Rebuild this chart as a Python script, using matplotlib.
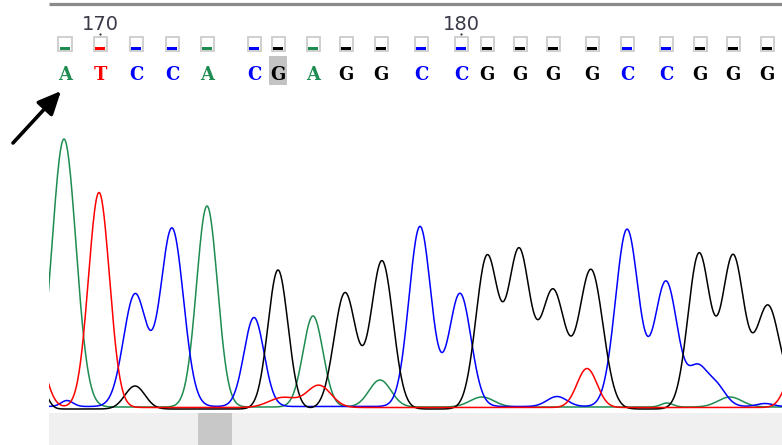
import matplotlib
matplotlib.use("Agg")
import matplotlib.pyplot as plt
import numpy as np
from matplotlib.patches import Rectangle

W, H = 782, 445

# base calls shown above the trace
bases = list("ATCCACGAGGCCGGGGCCGGG")
base_pos = [65, 100, 136, 172, 207, 254, 278, 313, 346, 381, 421,
            461, 487, 520, 553, 592, 627, 666, 700, 733, 767]
first_base = 169
selected = 6          # highlighted base (G, #175)

# trace peaks per channel: (scan position, height, width)
peaks_A = [(64, 268, 12), (207, 201, 10.5), (313, 91, 10), (380, 27, 11),
           (482, 10, 12), (667, 4, 6), (730, 10, 12)]
peaks_T = [(35, 60, 10), (99, 215, 10.5), (283, 10, 14), (319, 22, 12),
           (587, 39, 10), (797, 45, 10)]
peaks_C = [(67, 6, 6), (135, 112, 11.5), (172, 178, 11.5), (254, 89, 10),
           (420, 180, 11), (460, 113, 11), (557, 10, 10), (627, 177, 11.5),
           (666, 125, 11.5), (697, 35, 9), (715, 22, 10), (765, 3, 8)]
peaks_G = [(42, 18, 6), (135, 23, 10), (278, 139, 10), (345, 116, 11),
           (382, 148, 11), (487, 152, 11), (519, 157, 11), (553, 118, 12),
           (591, 139, 12), (699, 155, 11), (733, 152, 11), (768, 103, 12),
           (805, 40, 11)]
baseline = {'A': 1, 'T': 0.5, 'C': 1.5, 'G': -1}

colors = {'A': '#1e8c50', 'T': '#ff0000', 'C': '#0000ff', 'G': '#000000'}

fig = plt.figure(figsize=(W / 100, H / 100), dpi=100)


def px_axes(x0, y0, x1, y1):
    return fig.add_axes([x0 / W, 1 - y1 / H, (x1 - x0) / W, (y1 - y0) / H])


# trace panel
ax = px_axes(49, 90, 782, 413)
scan = np.arange(20, 810, 0.5)
for ch, pk in [('A', peaks_A), ('C', peaks_C), ('G', peaks_G), ('T', peaks_T)]:
    sig = np.full_like(scan, baseline[ch], dtype=float)
    for p, h, s in pk:
        sig += h * np.exp(-(scan - p) ** 2 / (2 * s ** 2))
    ax.plot(scan, sig, color=colors[ch], lw=1.1)
ax.set_xlim(49, 782)
ax.set_ylim(-5, 318)
ax.axis('off')

# scroll bar under the trace
sb = px_axes(49, 413, 782, 445)
sb.set_facecolor('#f0f0f0')
sb.set_xlim(49, 782)
sb.set_ylim(0, 1)
sb.axvspan(198, 232, color='#c8c8c8', lw=0)
for s in sb.spines.values():
    s.set_visible(False)
sb.set_xticks([])
sb.set_yticks([])

# base call strip
top = px_axes(49, 0, 782, 100)
top.set_xlim(49, 782)
top.set_ylim(100, 0)
top.axis('off')
for i, (b, x) in enumerate(zip(bases, base_pos)):
    if i == selected:
        top.add_patch(Rectangle((x - 9, 56), 18, 29, color='#c3c3c3', lw=0))
    top.add_patch(Rectangle((x - 6.5, 36.5), 13, 14, fill=False,
                            ec='#cccccc', lw=1.3))
    top.add_patch(Rectangle((x - 5, 46.5), 10, 3.8, color=colors[b], lw=0))
    top.text(x, 80, b, color=colors[b], ha='center', va='baseline',
             fontsize=13, family='DejaVu Serif', fontweight='bold')
    n = first_base + i
    if n % 10 == 0:
        top.text(x, 30, str(n), color='#3a3a48', ha='center', va='baseline',
                 fontsize=14)
        top.plot([x], [34], marker='o', ms=1.6, color='#333333', mew=0)

# overlay: top rule and arrow
ov = fig.add_axes([0, 0, 1, 1])
ov.set_xlim(0, W)
ov.set_ylim(H, 0)
ov.axis('off')
ov.plot([49, 782], [4, 4], color='#8a8a8a', lw=2.3, solid_capstyle='butt')
ov.annotate('', xy=(61, 91), xytext=(13, 143),
            arrowprops=dict(arrowstyle='-|>,head_length=0.7,head_width=0.32',
                            lw=2.6, color='black', mutation_scale=20,
                            shrinkA=0, shrinkB=0))

fig.savefig('out.png', dpi=100)
